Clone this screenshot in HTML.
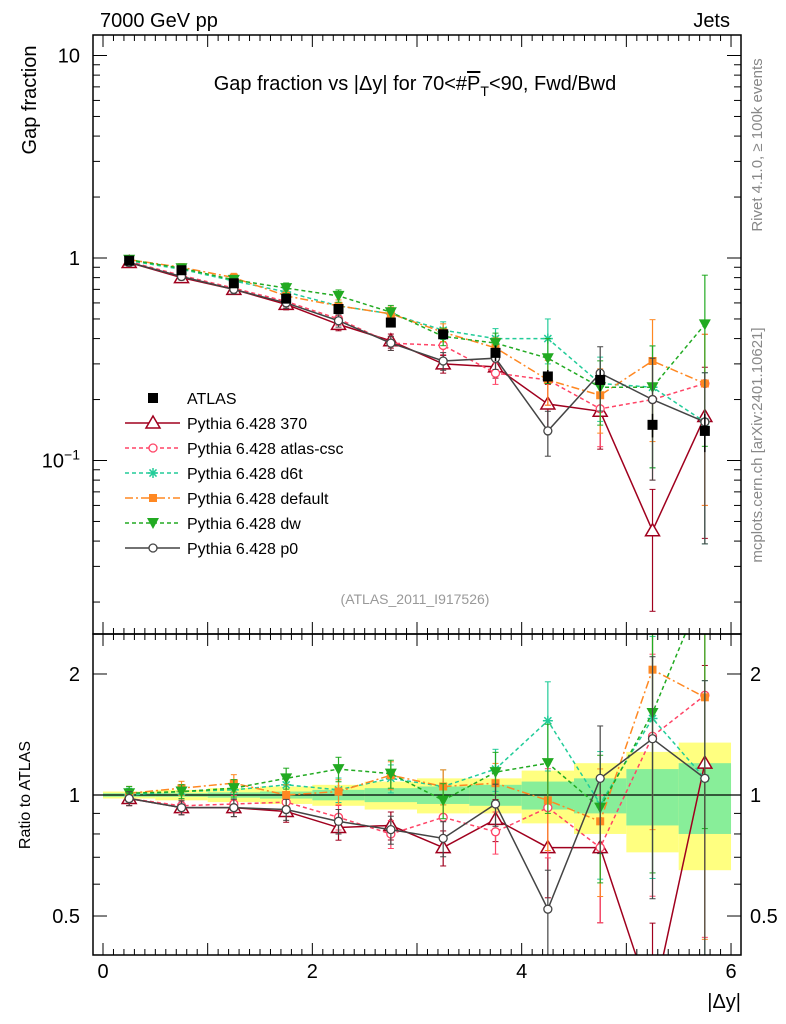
<!DOCTYPE html>
<html><head><meta charset="utf-8"><style>html,body{margin:0;padding:0;background:#fff;overflow:hidden;width:786px;height:1024px}svg{display:block;font-family:"Liberation Sans",sans-serif}</style></head>
<body>
<svg id="c" width="786" height="1024" viewBox="0 0 786 1024" xmlns="http://www.w3.org/2000/svg">
<text x="100" y="27" font-size="20">7000 GeV pp</text>
<text x="730" y="27" font-size="20" text-anchor="end">Jets</text>
<text x="415" y="90" font-size="20" text-anchor="middle">Gap fraction vs |Δy| for 70&lt;#<tspan text-decoration="overline">P</tspan><tspan font-size="14" dy="6">T</tspan><tspan dy="-6">&lt;90, Fwd/Bwd</tspan></text>
<text transform="translate(36,100) rotate(-90)" font-size="20" text-anchor="middle">Gap fraction</text>
<text transform="translate(30,795) rotate(-90)" font-size="16" text-anchor="middle">Ratio to ATLAS</text>
<text x="741" y="1008" font-size="20" text-anchor="end">|Δy|</text>
<text transform="translate(762,145) rotate(-90)" font-size="15" fill="#888" text-anchor="middle">Rivet 4.1.0, ≥ 100k events</text>
<text transform="translate(762,445) rotate(-90)" font-size="15" fill="#888" text-anchor="middle">mcplots.cern.ch [arXiv:2401.10621]</text>
<text x="415" y="604" font-size="14" fill="#999" text-anchor="middle">(ATLAS_2011_I917526)</text>
<g id="g"></g>
</svg>
<script>
const xcenters=[0.25,0.75,1.25,1.75,2.25,2.75,3.25,3.75,4.25,4.75,5.25,5.75];
const atlas=[0.97,0.87,0.75,0.63,0.56,0.48,0.42,0.34,0.26,0.25,0.15,0.14];
const atlasErr=[0.02,0.02,0.02,0.02,0.02,0.02,0.02,0.03,0.02,0.03,0.02,0.03];
const yellowHalf=[0.02,0.03,0.04,0.05,0.06,0.08,0.1,0.1,0.15,0.2,0.28,0.35];
const greenHalf=[0.01,0.01,0.015,0.02,0.03,0.04,0.05,0.06,0.08,0.1,0.16,0.2];
const relErr=[0.04,0.04,0.05,0.06,0.07,0.08,0.1,0.12,0.25,0.35,0.6,0.75];
const s370=[0.95,0.80,0.70,0.59,0.47,0.39,0.30,0.29,0.19,0.175,0.045,0.165];
const r370=[0.98,0.93,0.93,0.91,0.83,0.84,0.74,0.87,0.74,0.74,0.3,1.2];
const sCsc=[0.96,0.82,0.71,0.61,0.50,0.38,0.37,0.27,0.25,0.18,0.20,0.24];
const rCsc=[0.98,0.94,0.95,0.96,0.88,0.80,0.88,0.81,0.93,0.74,1.4,1.77];
const sD6t=[0.97,0.88,0.77,0.68,0.58,0.53,0.44,0.40,0.40,0.24,0.23,0.155];
const rD6t=[1.0,1.02,1.03,1.06,1.03,1.1,1.05,1.16,1.53,0.95,1.55,1.1];
const sDef=[0.98,0.90,0.80,0.65,0.58,0.53,0.43,0.36,0.25,0.21,0.31,0.24];
const rDef=[1.01,1.04,1.07,1.0,1.02,1.12,1.05,1.07,0.97,0.86,2.05,1.75];
const sDw=[0.98,0.89,0.78,0.71,0.65,0.54,0.41,0.38,0.32,0.23,0.23,0.47];
const rDw=[1.01,1.02,1.04,1.1,1.16,1.13,0.97,1.14,1.2,0.93,1.6,3.3];
const sP0=[0.95,0.81,0.70,0.60,0.49,0.38,0.31,0.32,0.14,0.27,0.20,0.155];
const rP0=[0.98,0.93,0.93,0.92,0.86,0.82,0.78,0.95,0.52,1.1,1.38,1.1];
const xTicks=[0,2,4,6];
const NS="http://www.w3.org/2000/svg";
const L=93,R=741,T1=35,B1=634,B2=955;
const clampY=y=>Math.max(0,Math.min(1020,y));
const X=v=>103+v*104.67;
const Y=v=>clampY(258-Math.log10(v)*202.5);
const YR=v=>clampY(795-Math.log10(v)*402);
const g=document.getElementById('g');
function mk(t,a,p){const e=document.createElementNS(NS,t);for(const k in a)e.setAttribute(k,a[k]);(p||g).appendChild(e);return e;}
const defs=mk('defs',{});
const c1=mk('clipPath',{id:'c1'},defs);mk('rect',{x:L,y:T1,width:R-L,height:B1-T1},c1);
const c2=mk('clipPath',{id:'c2'},defs);mk('rect',{x:L,y:B1,width:R-L,height:B2-B1},c2);
const gm=mk('g',{'clip-path':'url(#c1)'});


const gr=mk('g',{'clip-path':'url(#c2)'});


xcenters.forEach((c,i)=>{
 const y=mk('rect',{x:X(c-0.25),width:X(0.5)-X(0),y:YR(1+yellowHalf[i]),height:YR(1-yellowHalf[i])-YR(1+yellowHalf[i]),fill:'#ffff80'},gr);
 
 
});
xcenters.forEach((c,i)=>{
 const r=mk('rect',{x:X(c-0.25),width:X(0.5)-X(0),y:YR(1+greenHalf[i]),height:YR(1-greenHalf[i])-YR(1+greenHalf[i]),fill:'#88ee99'},gr);
 
 
});
mk('line',{x1:L,x2:R,y1:YR(1),y2:YR(1),stroke:'#000','stroke-width':1.2},gr);
const f1=mk('rect',{x:L,y:T1,width:R-L,height:B1-T1,fill:'none',stroke:'#000','stroke-width':1.5});


const f2=mk('rect',{x:L,y:B1,width:R-L,height:B2-B1,fill:'none',stroke:'#000','stroke-width':1.5});


for(let v=0;v<=6.01;v+=0.1){const maj=Math.abs(v-Math.round(v))<0.01;const len=maj?12:6;const x=X(v);
 if(x<L||x>R)continue;
 [[T1,1],[B1,-1],[B1,1],[B2,-1]].forEach(([y,d])=>mk('line',{x1:x,x2:x,y1:y,y2:y+d*len,stroke:'#000'}));}
xTicks.forEach(v=>{const t=mk('text',{x:X(v),y:978,'font-size':20,'text-anchor':'middle'});t.textContent=v;
 
 });
for(let d=-2;d<=1;d++)for(let m=1;m<10;m++){const v=m*Math.pow(10,d),y=258-Math.log10(v)*202.5;if(y<T1||y>B1)continue;const len=m==1?14:7;
 mk('line',{x1:L,x2:L+len,y1:y,y2:y,stroke:'#000'});mk('line',{x1:R,x2:R-len,y1:y,y2:y,stroke:'#000'});}
[[10,'10'],[1,'1']].forEach(([v,s])=>{const t=mk('text',{x:80,y:Y(v)+7,'font-size':20,'text-anchor':'end'});t.textContent=s;
 
 });
{const t=mk('text',{x:80,y:Y(0.1)+7,'font-size':20,'text-anchor':'end'});t.innerHTML='10<tspan font-size="14" dy="-8">−1</tspan>';
 
 }
[0.4,0.5,0.6,0.7,0.8,0.9,1,2].forEach(v=>{const y=YR(v);const len=(v==0.5||v==1||v==2)?14:7;
 mk('line',{x1:L,x2:L+len,y1:y,y2:y,stroke:'#000'});mk('line',{x1:R,x2:R-len,y1:y,y2:y,stroke:'#000'});});
[[2,'2'],[1,'1'],[0.5,'0.5']].forEach(([v,s])=>{
 const t=mk('text',{x:80,y:YR(v)+7,'font-size':20,'text-anchor':'end'});t.textContent=s;
 
 
 const t2=mk('text',{x:750,y:YR(v)+7,'font-size':20});t2.textContent=s;
 
 });
function marker(p,kind,col,x,y){
 if(kind=='sq')mk('rect',{x:x-5,y:y-5,width:10,height:10,fill:col},p);
 else if(kind=='osq')mk('rect',{x:x-4,y:y-4,width:8,height:8,fill:col},p);
 else if(kind=='tri')mk('path',{d:`M${x},${y-7}L${x+7},${y+5}L${x-7},${y+5}Z`,fill:'#fff',stroke:col,'stroke-width':1.5},p);
 else if(kind=='circ')mk('circle',{cx:x,cy:y,r:4,fill:'#fff',stroke:col,'stroke-width':1.3},p);
 else if(kind=='star'){for(let a=0;a<4;a++){const t=a*Math.PI/4;mk('line',{x1:x-5*Math.cos(t),y1:y-5*Math.sin(t),x2:x+5*Math.cos(t),y2:y+5*Math.sin(t),stroke:col,'stroke-width':1.5},p);}}
 else if(kind=='dtri')mk('path',{d:`M${x-6},${y-5}L${x+6},${y-5}L${x},${y+6}Z`,fill:col},p);
}
const series=[
 ['pythia-370','Pythia 6.428 370','#a0001e','tri','',s370,r370],
 ['pythia-atlas-csc','Pythia 6.428 atlas-csc','#ff4466','circ','4,3',sCsc,rCsc],
 ['pythia-d6t','Pythia 6.428 d6t','#22cc99','star','4,3',sD6t,rD6t],
 ['pythia-default','Pythia 6.428 default','#ff8822','osq','8,3,2,3',sDef,rDef],
 ['pythia-dw','Pythia 6.428 dw','#22aa22','dtri','4,3',sDw,rDw],
 ['pythia-p0','Pythia 6.428 p0','#444444','circ','',sP0,rP0]];
series.forEach(([nm,lab,col,kind,dash,sv,rv])=>{
 [[gm,sv,Y,'main'],[gr,rv,YR,'ratio']].forEach(([p,vals,fy,tag])=>{
  const sg=mk('g',{},p);
  
  
  xcenters.forEach((c,i)=>{const v=vals[i];const lo=Math.max(v*(1-relErr[i]),1e-3),hi=v*(1+relErr[i]);
   mk('line',{x1:X(c),x2:X(c),y1:fy(lo),y2:fy(hi),stroke:col,'stroke-width':1.2},sg);
   mk('line',{x1:X(c)-3,x2:X(c)+3,y1:fy(lo),y2:fy(lo),stroke:col},sg);mk('line',{x1:X(c)-3,x2:X(c)+3,y1:fy(hi),y2:fy(hi),stroke:col},sg);});
  mk('polyline',{points:xcenters.map((c,i)=>X(c)+','+fy(vals[i])).join(' '),fill:'none',stroke:col,'stroke-width':1.5,'stroke-dasharray':dash},sg);
  xcenters.forEach((c,i)=>marker(sg,kind,col,X(c),fy(vals[i])));
 });
});
const ag=mk('g',{},gm);


xcenters.forEach((c,i)=>{mk('line',{x1:X(c),x2:X(c),y1:Y(atlas[i]-atlasErr[i]),y2:Y(atlas[i]+atlasErr[i]),stroke:'#000','stroke-width':1.5},ag);marker(ag,'sq','#000',X(c),Y(atlas[i]));});
const lg=mk('g',{});


{const e=mk('g',{},lg);
 
 
 marker(e,'sq','#000',153,398);const t=mk('text',{x:187,y:404,'font-size':16},e);t.textContent='ATLAS';}
series.forEach(([nm,lab,col,kind,dash],i)=>{const y=423+25*i;const e=mk('g',{},lg);
 
 
 mk('line',{x1:125,x2:180,y1:y,y2:y,stroke:col,'stroke-width':1.5,'stroke-dasharray':dash},e);marker(e,kind,col,153,y);
 const t=mk('text',{x:187,y:y+6,'font-size':16},e);t.textContent=lab;});
</script>
</body></html>
